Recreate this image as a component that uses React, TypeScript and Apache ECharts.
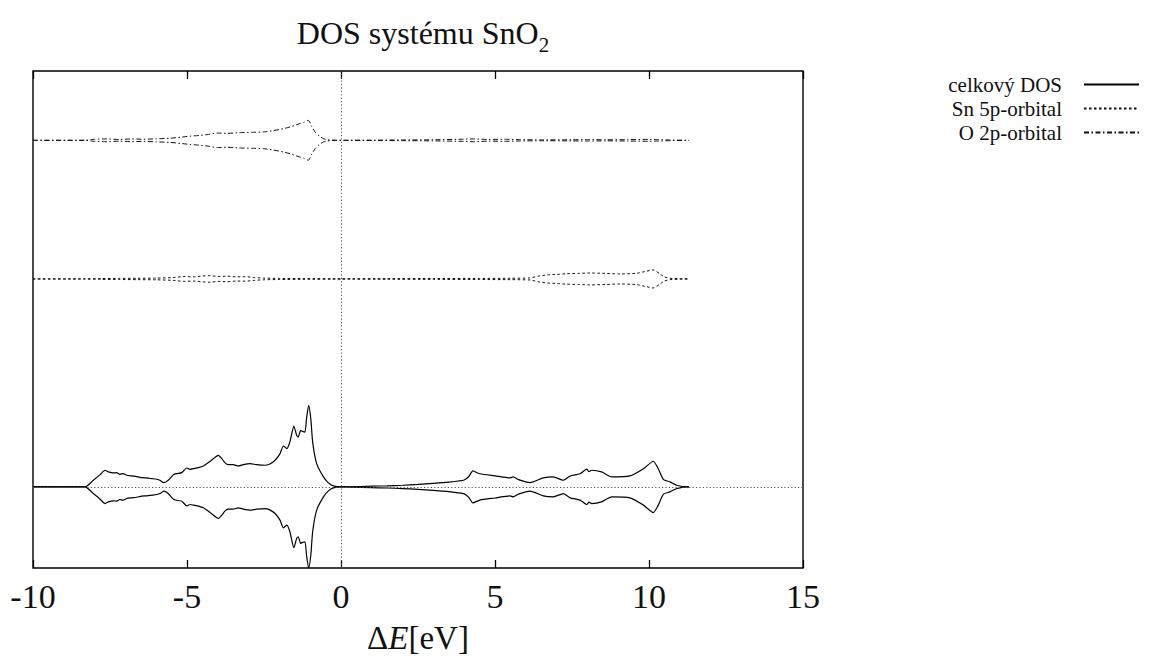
import React, { useEffect, useRef } from "react";
import * as echarts from "echarts";

// Energy grid (eV) and half-widths (arbitrary DOS units)
const totalE = [-10, -8.31, -8.04, -7.82, -7.66, -7.55, -7.39, -7.28, -7.18, -7.07, -6.96, -6.8, -6.63, -6.47, -6.31, -6.15, -5.98, -5.88, -5.75, -5.61, -5.44, -5.34, -5.17, -5.01, -4.9, -4.79, -4.63, -4.47, -4.25, -3.98, -3.87, -3.77, -3.66, -3.5, -3.33, -3.17, -2.95, -2.74, -2.47, -2.31, -2.14, -1.98, -1.87, -1.76, -1.66, -1.53, -1.44, -1.39, -1.31, -1.25, -1.17, -1.12, -1.05, -0.98, -0.92, -0.79, -0.57, -0.41, -0.25, 0, 0.3, 1.0, 1.5, 2.0, 2.5, 3.0, 3.5, 3.8, 4.0, 4.15, 4.28, 4.51, 5.0, 5.49, 5.59, 5.76, 6.14, 6.57, 6.89, 7.22, 7.44, 7.76, 7.98, 8.05, 8.14, 8.46, 8.79, 9.38, 9.82, 10.14, 10.3, 10.47, 10.68, 10.9, 11.22, 11.3];
const totalH = [0, 0, 0.096, 0.177, 0.24, 0.216, 0.201, 0.206, 0.182, 0.192, 0.168, 0.158, 0.149, 0.134, 0.129, 0.12, 0.11, 0.096, 0.062, 0.096, 0.177, 0.192, 0.206, 0.273, 0.254, 0.264, 0.278, 0.302, 0.369, 0.456, 0.408, 0.35, 0.321, 0.321, 0.302, 0.321, 0.336, 0.321, 0.312, 0.331, 0.384, 0.48, 0.59, 0.552, 0.647, 0.878, 0.743, 0.719, 0.815, 0.801, 0.791, 0.983, 1.175, 0.983, 0.647, 0.336, 0.144, 0.058, 0.014, 0, 0.002, 0.01, 0.016, 0.024, 0.035, 0.05, 0.068, 0.085, 0.1, 0.15, 0.23, 0.19, 0.16, 0.13, 0.144, 0.105, 0.062, 0.13, 0.144, 0.096, 0.158, 0.19, 0.255, 0.22, 0.24, 0.216, 0.144, 0.158, 0.263, 0.37, 0.263, 0.105, 0.072, 0.024, 0, 0];

const snE = [-10, -8.31, -7.8, -7.2, -6.6, -6.0, -5.45, -5.1, -4.8, -4.5, -4.25, -4.0, -3.7, -3.4, -3.1, -2.8, -2.52, -2.0, -1.2, 0, 1.5, 3.0, 4.5, 5.5, 6.14, 6.4, 6.68, 7.0, 7.3, 7.7, 8.08, 8.6, 9.06, 9.6, 9.9, 10.14, 10.36, 10.5, 10.68, 11.0, 11.33];
const snH = [0, 0, 0.006, 0.008, 0.01, 0.012, 0.02, 0.035, 0.03, 0.042, 0.048, 0.035, 0.04, 0.03, 0.032, 0.02, 0.012, 0.008, 0.005, 0.003, 0.004, 0.006, 0.008, 0.01, 0.015, 0.04, 0.058, 0.065, 0.075, 0.08, 0.086, 0.08, 0.072, 0.082, 0.11, 0.13, 0.072, 0.03, 0.01, 0.004, 0];

const oE = [-10, -8.31, -8.0, -7.6, -7.2, -6.8, -6.4, -6.0, -5.55, -5.2, -4.9, -4.6, -4.3, -4.04, -3.7, -3.3, -2.9, -2.52, -2.2, -1.87, -1.6, -1.35, -1.2, -1.06, -0.95, -0.84, -0.7, -0.57, -0.46, -0.3, 0, 1, 2, 3, 3.9, 4.3, 4.8, 5.3, 5.8, 6.5, 7.5, 8.0, 8.6, 9.3, 10.0, 10.3, 10.7, 11.3];
const oH = [0, 0, 0.015, 0.02, 0.012, 0.02, 0.015, 0.022, 0.03, 0.045, 0.06, 0.07, 0.085, 0.105, 0.1, 0.11, 0.115, 0.12, 0.14, 0.168, 0.2, 0.24, 0.26, 0.288, 0.2, 0.12, 0.06, 0.024, 0.01, 0.004, 0, 0.003, 0.005, 0.008, 0.015, 0.02, 0.012, 0.015, 0.01, 0.006, 0.008, 0.01, 0.008, 0.01, 0.014, 0.01, 0.004, 0];

const seriesNames = ["celkový DOS", "Sn 5p-orbital", "O 2p-orbital"];
const offsets = [0, 3, 5];
const xTicks = { min: -10, max: 15, interval: 5 };
const yRange = { min: -1.17, max: 6 };

const SERIF = "'Liberation Serif', 'Times New Roman', serif";

function mirrored(E: number[], H: number[], off: number, sign: number) {
  return E.map((e, i) => [e, off + sign * H[i]]);
}

export default function App() {
  const ref = useRef<HTMLDivElement>(null);
  useEffect(() => {
    document.body.style.margin = "0";
    if (!ref.current) return;
    const chart = echarts.init(ref.current, undefined, { renderer: "svg" });
    const styles = [
      { color: "#000", width: 1.2, type: "solid" as any },
      { color: "#111", width: 1, type: [2.5, 2.5] as any },
      { color: "#111", width: 1, type: [5, 2.5, 1.5, 2.5] as any },
    ];
    const comps = [
      [totalE, totalH],
      [snE, snH],
      [oE, oH],
    ];
    const series: any[] = [];
    comps.forEach(([E, H], k) => {
      [1, -1].forEach((sgn) => {
        const s: any = {
          name: seriesNames[k],
          type: "line",
          data: mirrored(E, H, offsets[k], sgn),
          symbol: "none",
          smooth: 0.2,
          lineStyle: styles[k],
          itemStyle: { color: styles[k].color },
          silent: true,
          z: 3,
        };
        if (k === 0 && sgn === 1) {
          s.markLine = {
            silent: true,
            symbol: ["none", "none"],
            label: { show: false },
            lineStyle: { color: "#555", width: 1, type: [1.2, 2.2] },
            data: [{ xAxis: 0 }, { yAxis: 0 }],
          };
        }
        series.push(s);
      });
    });

    const tick = { show: true, inside: true, length: 8, lineStyle: { color: "#000", width: 1.3 } };

    chart.setOption({
      animation: false,
      backgroundColor: "#fff",
      title: {
        text: "{a|DOS systému SnO}{s|2}",
        left: 418,
        top: 8,
        textAlign: "center",
        textStyle: {
          fontWeight: "normal",
          rich: {
            a: { fontFamily: SERIF, fontSize: 32, fontWeight: "normal", color: "#111", lineHeight: 36, verticalAlign: "bottom" },
            s: { fontFamily: SERIF, fontSize: 21, fontWeight: "normal", color: "#111", lineHeight: 36, verticalAlign: "bottom", padding: [0, 0, -6, 0] },
          },
        },
      },
      legend: {
        orient: "vertical",
        right: 26,
        top: 74,
        padding: 0,
        align: "right",
        itemWidth: 55,
        itemHeight: 10,
        itemGap: 3,
        data: seriesNames,
        itemStyle: { color: "rgba(0,0,0,0)", borderWidth: 0 },
        textStyle: { fontFamily: SERIF, fontSize: 21, color: "#111", padding: [0, 17, 0, 0] },
      },
      grid: { left: 33, right: 363, top: 71, bottom: 90, show: true, borderColor: "#000", borderWidth: 1.4, backgroundColor: "transparent" },
      xAxis: [
        {
          type: "value",
          position: "bottom",
          ...xTicks,
          axisLine: { show: false, onZero: false },
          axisTick: tick,
          splitLine: { show: false },
          axisLabel: { fontFamily: SERIF, fontSize: 34, color: "#111", margin: 11 },
          name: "{n|Δ}{i|E}{n|[eV]}",
          nameLocation: "middle",
          nameGap: 53,
          nameTextStyle: {
            rich: {
              n: { fontFamily: SERIF, fontSize: 33, color: "#111" },
              i: { fontFamily: SERIF, fontSize: 33, color: "#111", fontStyle: "italic" },
            },
          },
        },
        {
          type: "value",
          position: "top",
          ...xTicks,
          axisLine: { show: false, onZero: false },
          axisTick: tick,
          splitLine: { show: false },
          axisLabel: { show: false },
        },
      ],
      yAxis: {
        type: "value",
        ...yRange,
        axisLine: { show: false, onZero: false },
        axisTick: { show: false },
        axisLabel: { show: false },
        splitLine: { show: false },
      },
      series,
    });
    return () => chart.dispose();
  }, []);
  return <div ref={ref} style={{ width: 1166, height: 659 }} />;
}
